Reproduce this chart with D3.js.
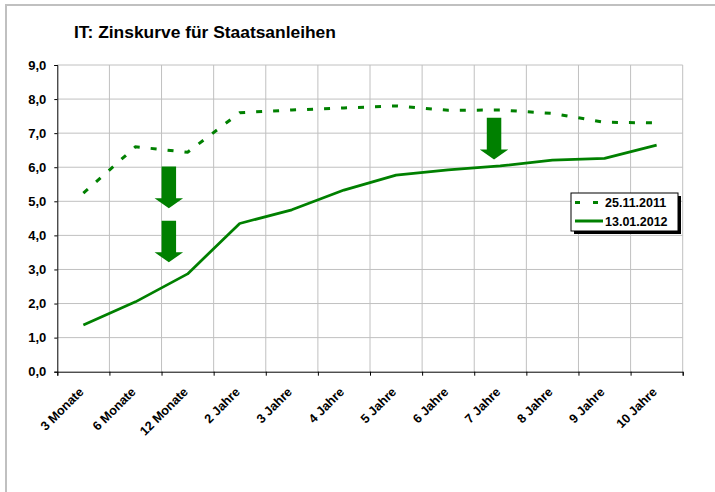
<!DOCTYPE html>
<html>
<head>
<meta charset="utf-8">
<script src="https://cdn.jsdelivr.net/npm/d3@7"></script>
<style>
  body { margin: 0; background: #fff; }
  svg { display: block; font-family: Arial, "Liberation Sans", sans-serif; }
</style>
</head>
<body>
<svg id="chart" width="715" height="492"></svg>
<script>
const categories = ['3 Monate', '6 Monate', '12 Monate', '2 Jahre', '3 Jahre', '4 Jahre',
  '5 Jahre', '6 Jahre', '7 Jahre', '8 Jahre', '9 Jahre', '10 Jahre']
const rates2011 = [5.24, 6.60, 6.44, 7.60, 7.68, 7.74, 7.80, 7.67, 7.68, 7.58, 7.32, 7.30]
const rates2012 = [1.37, 2.05, 2.87, 4.35, 4.75, 5.33, 5.77, 5.92, 6.04, 6.21, 6.26, 6.65]
const seriesNames = ['25.11.2011', '13.01.2012']
const yTicks = [0, 1, 2, 3, 4, 5, 6, 7, 8, 9]
// arrows: position on category index axis, from / to value
const arrows = [
  { at: 2.14, from: 6.02, to: 4.80 },
  { at: 2.14, from: 4.43, to: 3.21 },
  { at: 8.38, from: 7.45, to: 6.23 }
]

const green = '#008000'
const grid = '#c0c0c0'
const plotL = 57.3, plotR = 682.7, plotT = 65, plotB = 371.7

const svg = d3.select('#chart')

// outer frame (only top and left visible)
svg.append('path')
  .attr('d', 'M6,492V5H715')
  .attr('fill', 'none')
  .attr('stroke', '#c0c0c0')
  .attr('stroke-width', 2)

svg.append('text')
  .attr('x', 74).attr('y', 38)
  .attr('font-size', 17.4).attr('font-weight', 'bold')
  .text('IT: Zinskurve für Staatsanleihen')

const x = d3.scaleBand().domain(categories).range([plotL, plotR])
const xi = d3.scaleLinear().domain([0, categories.length]).range([plotL, plotR])
const y = d3.scaleLinear().domain([0, 9]).range([plotB, plotT])

// gridlines
const g = svg.append('g')
g.selectAll('.hgrid').data(yTicks.slice(1)).enter().append('line')
  .attr('x1', plotL).attr('x2', plotR)
  .attr('y1', d => y(d)).attr('y2', d => y(d))
  .attr('stroke', grid).attr('stroke-width', 1)
g.selectAll('.vgrid').data(d3.range(1, categories.length + 1)).enter().append('line')
  .attr('x1', d => xi(d)).attr('x2', d => xi(d))
  .attr('y1', plotT).attr('y2', plotB)
  .attr('stroke', grid).attr('stroke-width', 1)

// axes
const yAxis = svg.append('g')
  .attr('transform', `translate(${plotL},0)`)
  .call(d3.axisLeft(y).tickValues(yTicks).tickSize(3).tickPadding(8)
    .tickFormat(d => d3.format('.1f')(d).replace('.', ',')))
yAxis.selectAll('text').attr('font-size', 13).attr('font-weight', 'bold')
  .attr('font-family', 'Arial, "Liberation Sans", sans-serif').attr('fill', '#000')

svg.append('g')
  .attr('transform', `translate(0,${plotB})`)
  .call(d3.axisBottom(xi).tickValues(d3.range(0, categories.length + 1)).tickSize(4).tickFormat(''))
svg.selectAll('.domain').attr('stroke', '#000')
svg.selectAll('.tick line').attr('stroke', '#000')

svg.append('g').selectAll('text').data(categories).enter().append('text')
  .attr('transform', d => `translate(${x(d) + x.bandwidth() / 2 + 1},${plotB + 21}) rotate(-45)`)
  .attr('text-anchor', 'end')
  .attr('font-size', 12.6).attr('font-weight', 'bold')
  .text(d => d)

// lines
const line = d3.line()
  .x((d, i) => x(categories[i]) + x.bandwidth() / 2)
  .y(d => y(d))

svg.append('path').datum(rates2011)
  .attr('d', line)
  .attr('fill', 'none').attr('stroke', green).attr('stroke-width', 3)
  .attr('stroke-dasharray', '6,11')

svg.append('path').datum(rates2012)
  .attr('d', line)
  .attr('fill', 'none').attr('stroke', green).attr('stroke-width', 2.75)
  .attr('stroke-linejoin', 'round')

// block arrows
const shaftW = 14.5, headW = 28.5, headH = 10
svg.append('g').selectAll('path').data(arrows).enter().append('path')
  .attr('fill', green)
  .attr('d', a => {
    const cx = xi(a.at), y0 = y(a.from), y1 = y(a.to), yh = y1 - headH
    return `M${cx - shaftW / 2},${y0}H${cx + shaftW / 2}V${yh}H${cx + headW / 2}L${cx},${y1}L${cx - headW / 2},${yh}H${cx - shaftW / 2}Z`
  })

// legend
const lg = svg.append('g').attr('transform', 'translate(571,193)')
lg.append('rect').attr('x', 3).attr('y', 3).attr('width', 107).attr('height', 38).attr('fill', '#000')
lg.append('rect').attr('x', 0).attr('y', 0).attr('width', 107).attr('height', 38)
  .attr('fill', '#fff').attr('stroke', '#000').attr('stroke-width', 1)
seriesNames.forEach((name, i) => {
  const ly = 9.5 + i * 18.5
  lg.append('line').attr('x1', 4).attr('x2', 32).attr('y1', ly).attr('y2', ly)
    .attr('stroke', green).attr('stroke-width', 3)
    .attr('stroke-dasharray', i === 0 ? '5,13' : null)
  lg.append('text').attr('x', 34).attr('y', ly + 4.5)
    .attr('font-size', 12.5).attr('font-weight', 'bold')
    .text(name)
})
</script>
</body>
</html>
